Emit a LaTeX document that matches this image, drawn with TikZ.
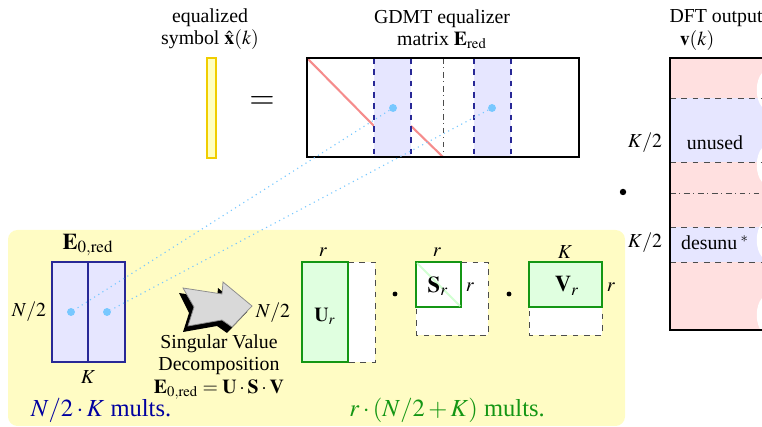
\documentclass[tikz,border=0pt]{standalone}
\usepackage{mathptmx}
\usepackage{fontspec}
\setmainfont{Liberation Serif}

\definecolor{bgyellow}{RGB}{255,252,196}
\definecolor{baryellow}{RGB}{255,255,190}
\definecolor{bargold}{RGB}{240,205,0}
\definecolor{lavender}{RGB}{230,230,255}
\definecolor{navyline}{RGB}{40,40,150}
\definecolor{navytext}{RGB}{0,0,160}
\definecolor{pinkfill}{RGB}{255,224,224}
\definecolor{mintfill}{RGB}{224,255,224}
\definecolor{greenline}{RGB}{20,150,20}
\definecolor{skydot}{RGB}{120,200,255}
\definecolor{diagred}{RGB}{245,140,140}

\tikzset{
	dashcol/.style={navyline,dashed,line width=0.6pt},
	blob/.style={circle,fill=skydot,inner sep=0pt,minimum size=4.2pt},
	bigdot/.style={circle,fill=black,inner sep=0pt,minimum size=3.4pt},
	smalldot/.style={circle,fill=black,inner sep=0pt,minimum size=2.6pt},
	skyline/.style={skydot,dotted,line width=0.6pt},
	greenbox/.style={draw=greenline,line width=0.7pt},
	extbox/.style={draw=black!70,dashed,fill=white,line width=0.5pt},
	mults/.style={font=\fontsize{13}{15}\selectfont},
}

\begin{document}
\begin{tikzpicture}[x=0.53pt,y=-0.53pt,font=\fontsize{10.5}{11.8}\selectfont]
	
	\useasboundingbox (0,0) rectangle (762,427);
	
	%        \only<1->
	{
		\node[align=center] (symtxt) at (210,29) {equalized\\symbol $\hat{\mathbf{x}}(k)$};
		\draw[fill=baryellow,draw=bargold,line width=0.7pt] (207,58) -- (216,58) -- (216,158) -- (207,158) -- cycle;
		\node (eqsign) at (262,103) {\LARGE $=$};
		
		\node[align=center] (gdmttxt) at (442,29) {GDMT equalizer\\matrix $\mathbf{E}_{\mathrm{red}}$};
		\draw[diagred,line width=1.1pt] (307,58) -- (374,126);
		\draw[diagred,line width=1.1pt] (411,126) -- (443,157);
		\foreach \x in {374,474} {
			\fill[lavender] (\x,58) rectangle (\x+37,157);
			\draw[dashcol] (\x,58) -- (\x,157);
			\draw[dashcol] (\x+37,58) -- (\x+37,157);
		}
		\draw[black!70,dash dot,line width=0.5pt] (443,58) -- (443,157);
		\draw[line width=0.8pt] (307,58) -- (579,58) -- (579,157) -- (307,157) -- cycle;
		\node[blob] (d1) at (393,108) {};
		\node[blob] (d2) at (492,108) {};
	}
	
	%        \only<2->
	{
		\node (dfttxt) at (716,18) {DFT output};
		\node (vtxt) at (697,41) {$\mathbf{v}(k)$};
		\fill[pinkfill] (670,58) rectangle (762,330);
		\fill[lavender] (670,98) rectangle (762,162);
		\fill[lavender] (670,227) rectangle (762,262);
		\foreach \c in {90,165,240,315} {
			\fill[white] (762,\c-17) .. controls (755,\c-9) and (755,\c+9) .. (762,\c+17) -- cycle;
		}
		\foreach \y in {98,162,227,262} {
			\draw[black!70,dashed,line width=0.5pt] (670,\y) -- (762,\y);
		}
		\draw[black!70,dash dot,line width=0.5pt] (670,193) -- (762,193);
		\draw[line width=0.8pt] (762,58) -- (670,58) -- (670,330) -- (762,330);
		\node (unused) at (715,143) {unused};
		\node (desunu) at (715,243) {desunu\,$^*$};
		\node (k1) at (645,143) {$K/2$};
		\node (k2) at (645,243) {$K/2$};
		\node[bigdot] (mdot) at (623,192) {};
	}
	
	%        \only<3->
	{
		\fill[bgyellow,rounded corners=5pt] (8,230) rectangle (625,426);
		
		\draw[fill=lavender,draw=navyline,line width=0.7pt] (52,262) -- (125,262) -- (125,362) -- (52,362) -- cycle;
		\draw[navyline,line width=0.7pt] (88,262) -- (88,362);
		\node (e0txt) at (88,245) {\large $\mathbf{E}_{0,\mathrm{red}}$};
		\node (n1) at (29,312) {$N/2$};
		\node (kk) at (88,377) {$K$};
		\node[blob] (e1) at (71,312) {};
		\node[blob] (e2) at (107,312) {};
		\node[navytext,mults] (cost1) at (101,410) {$N/2\cdot K$ mults.};
		
		% arrow with shadow
		\fill[black] (179,293) -- (217,299) -- (218,288) -- (247,312) -- (227,333) -- (217,326) -- (183,332) -- (189,313) -- cycle;
		\draw[fill=black!15,draw=black!45,line width=0.4pt] (183,288) -- (222,294) -- (223,282) -- (252,306) -- (232,327) -- (222,320) -- (188,326) -- (194,307) -- cycle;
		\node[align=center,inner sep=1pt] (svdtxt) at (219,367) {Singular Value\\Decomposition\\$\mathbf{E}_{0,\mathrm{red}}=\mathbf{U}\cdot\mathbf{S}\cdot\mathbf{V}$};
	}
	
	%        \only<4->
	{
		\draw[extbox] (348,262) -- (375,262) -- (375,362) -- (348,362);
		\draw[greenbox,fill=mintfill] (302,262) -- (348,262) -- (348,362) -- (302,362) -- cycle;
		\node (n2) at (273,313) {$N/2$};
		\node (r1) at (323,252) {$r$};
		\node (ur) at (325,316) {$\mathbf{U}_r$};
		\node[smalldot] (dot1) at (395,294) {};
		
		\draw[extbox] (416,262) -- (488,262) -- (488,335) -- (416,335) -- cycle;
		\draw[greenbox,fill=white] (416,262) -- (461,262) -- (461,307) -- (416,307) -- cycle;
		\draw[mintfill!80!green!60,line width=1pt] (417,263) -- (460,306);
		\node (sr) at (438,286) {\large $\mathbf{S}_r$};
		\node (r2) at (437,252) {$r$};
		\node (r3) at (470,287) {$r$};
		\node[smalldot] (dot2) at (509,294) {};
		
		\draw[extbox] (529,262) -- (602,262) -- (602,335) -- (529,335) -- cycle;
		\draw[greenbox,fill=mintfill] (529,262) -- (602,262) -- (602,307) -- (529,307) -- cycle;
		\node (vr) at (567,286) {\large $\mathbf{V}_r$};
		\node (kv) at (565,252) {$K$};
		\node (r4) at (611,287) {$r$};
		
		\node[greenline,mults] (cost2) at (447,410) {$r\cdot(N/2+K)$ mults.};
	}
	
	% links between the columns
	\draw[skyline] (d1) -- (e1);
	\draw[skyline] (d2) -- (e2);
	
\end{tikzpicture}
\end{document}
